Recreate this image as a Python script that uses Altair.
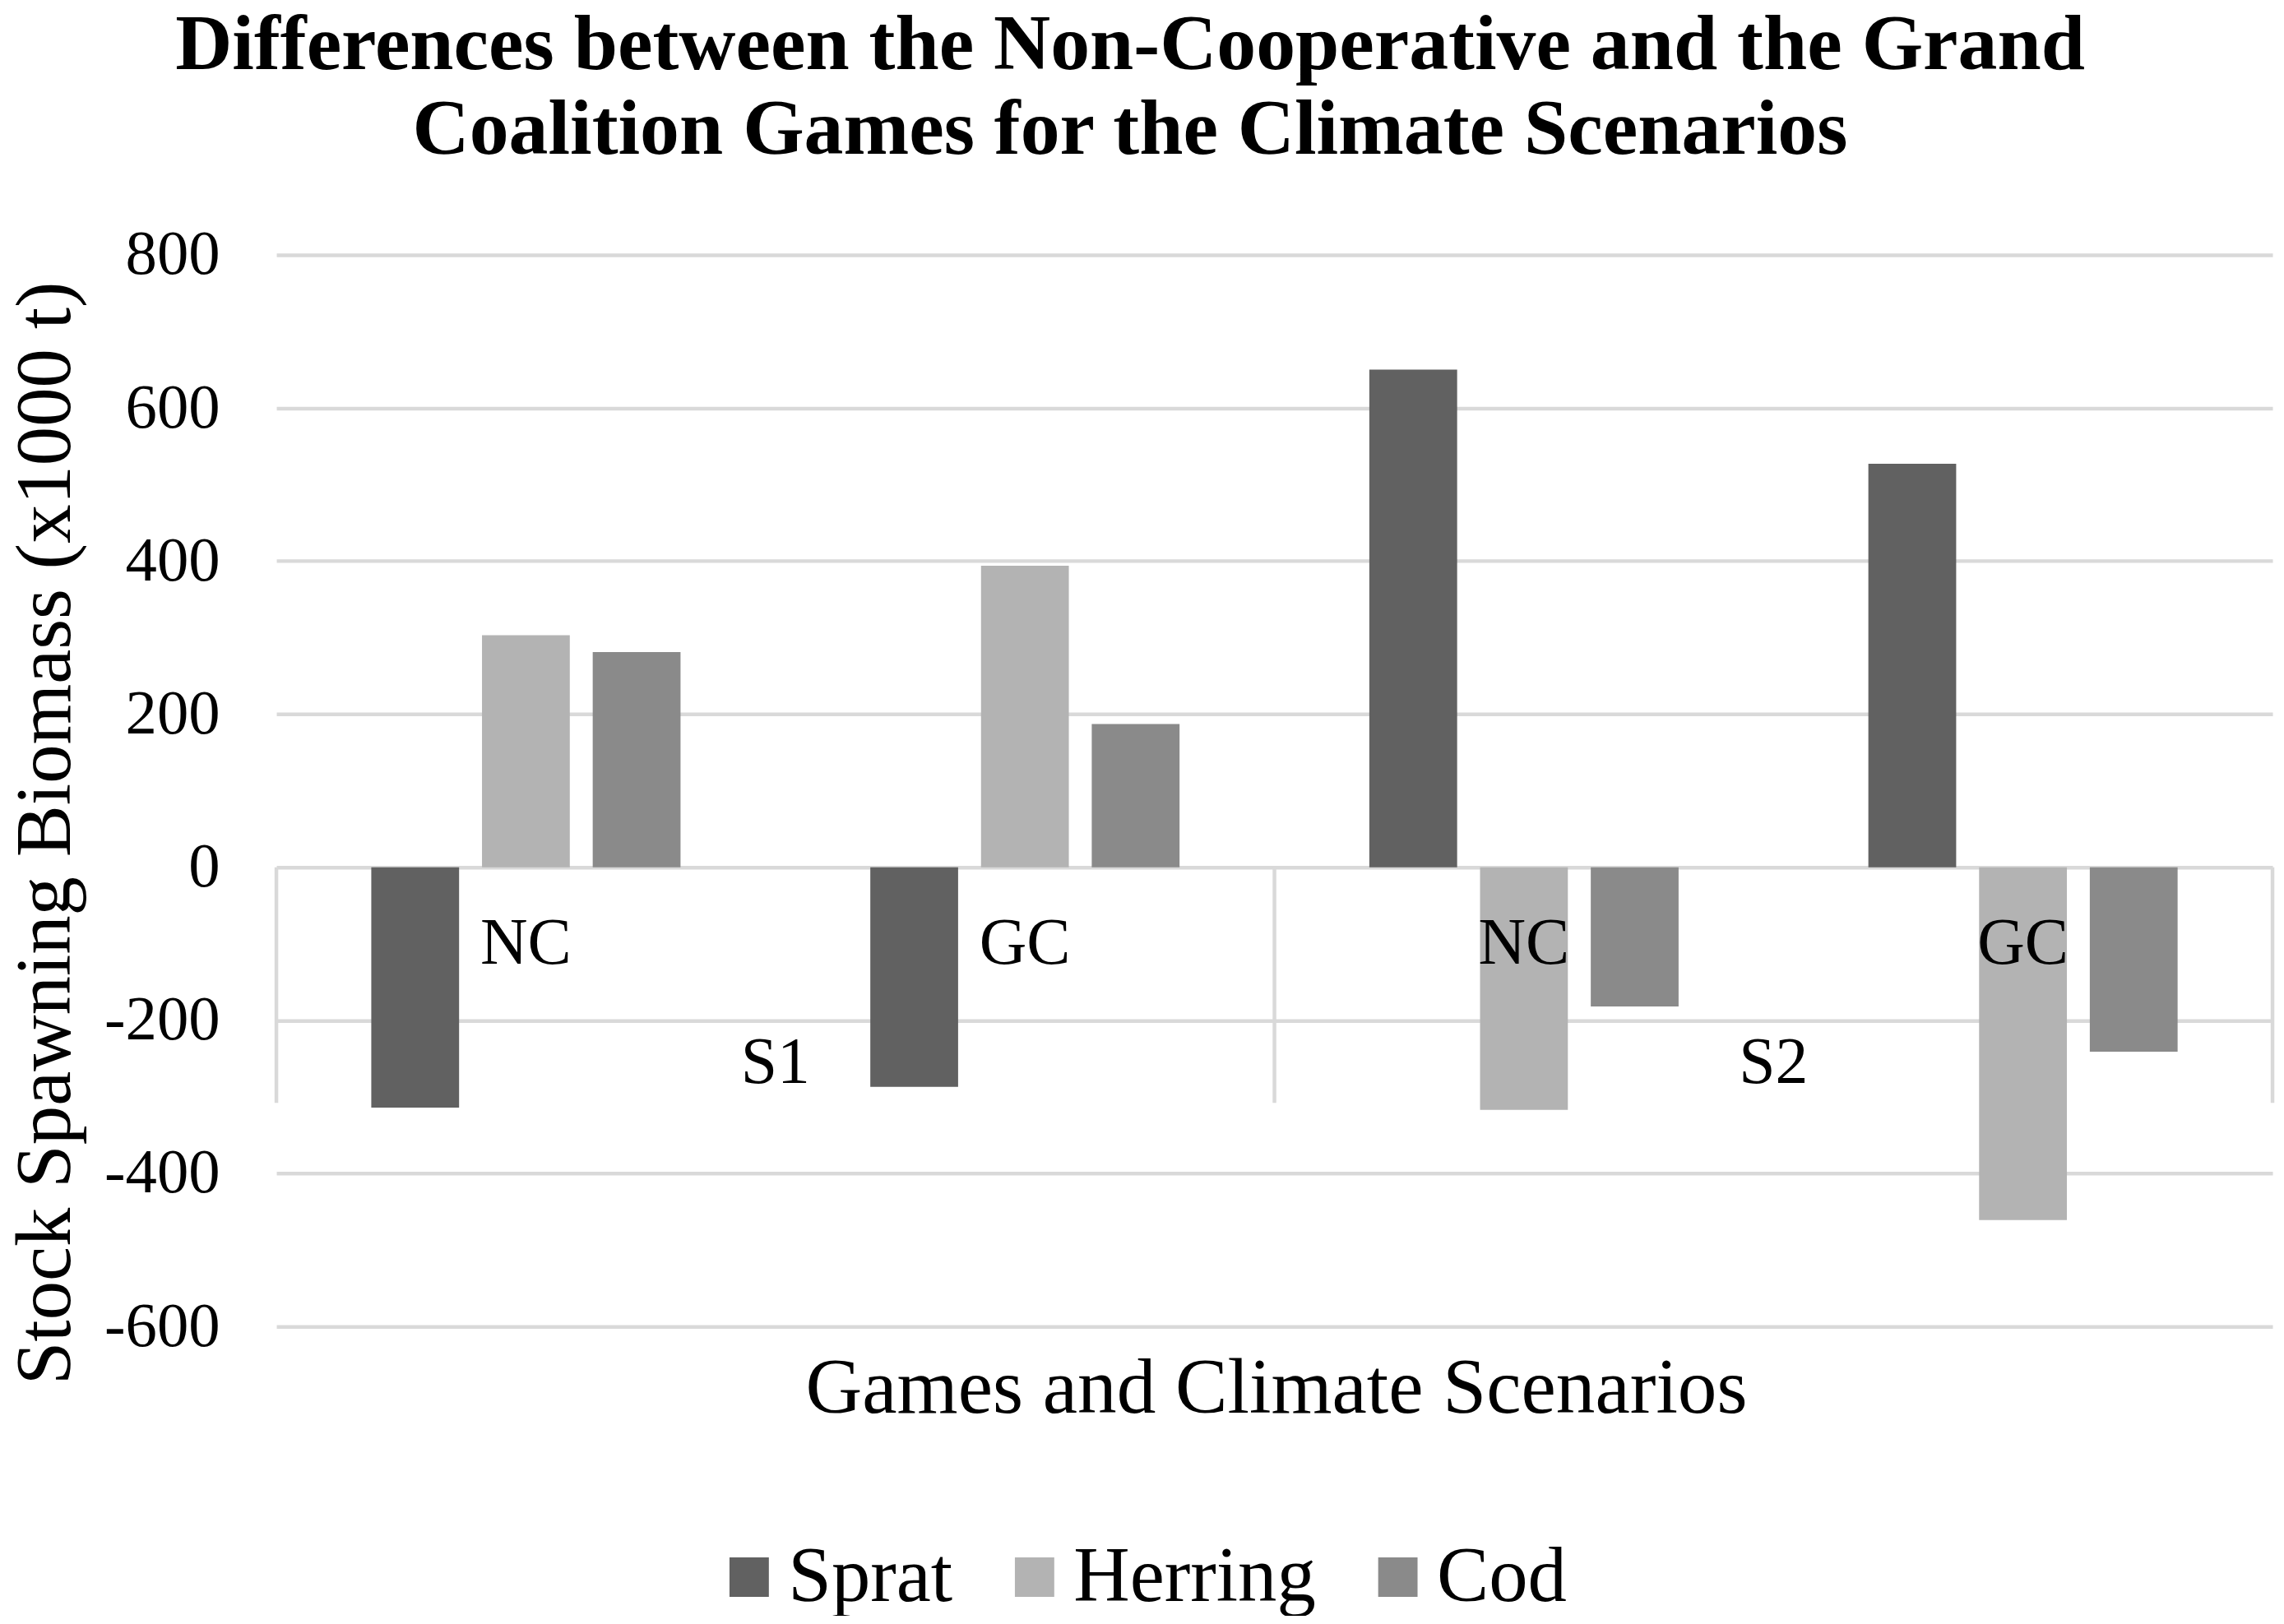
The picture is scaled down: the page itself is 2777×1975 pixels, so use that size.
import altair as alt
import pandas as pd

cats = ["S1-NC", "S1-GC", "S2-NC", "S2-GC"]
games = ["NC", "GC", "NC", "GC"]
scenarios = ["S1", "S1", "S2", "S2"]
species = ["Sprat", "Herring", "Cod"]
sprat = [-314, -287, 650, 527]
herring = [303, 394, -317, -461]
cod = [281, 187, -182, -241]
colors = ["#616161", "#b3b3b3", "#8a8a8a"]
y_ticks = [-600, -400, -200, 0, 200, 400, 600, 800]

FONT = "Liberation Serif"
GRID = "#d9d9d9"

rows = []
for sp, vals in zip(species, [sprat, herring, cod]):
    for c, v in zip(cats, vals):
        rows.append({"cat": c, "species": sp, "value": v})
df = pd.DataFrame(rows)

lab_df = pd.DataFrame({"cat": cats, "game": games, "scenario": scenarios})
# scenario label sits at the boundary between the two games of a scenario
scen_df = pd.DataFrame({"cat": ["S1-GC", "S2-GC"], "scenario": ["S1", "S2"]})
sep_left_df = pd.DataFrame({"cat": ["S1-NC", "S2-NC"]})
sep_right_df = pd.DataFrame({"cat": ["S2-GC"]})

xscale = alt.Scale(domain=cats, paddingInner=0, paddingOuter=0)

bars = alt.Chart(df).mark_bar().encode(
    x=alt.X(
        "cat:N",
        sort=cats,
        scale=xscale,
        axis=alt.Axis(
            labels=False, ticks=False, domain=False, grid=False,
            title="Games and Climate Scenarios",
            titleFont=FONT, titleFontSize=95.5, titleFontWeight="normal",
            titleColor="black", titleX=1219, titleY=105,
            titleBaseline="alphabetic", titleAlign="center",
        ),
    ),
    xOffset=alt.XOffset(
        "species:N", sort=species,
        scale=alt.Scale(domain=species, paddingInner=0.207, paddingOuter=0.857),
    ),
    y=alt.Y(
        "value:Q",
        scale=alt.Scale(domain=[-600, 800], nice=False, zero=False),
        axis=alt.Axis(
            values=y_ticks, domain=False, ticks=False, grid=True,
            gridColor=GRID, gridWidth=4.5,
            labelExpr="'' + datum.value",
            labelFont=FONT, labelFontSize=77, labelColor="black", labelPadding=69,
            title="Stock Spawning Biomass (x1000 t)",
            titleFont=FONT, titleFontSize=95, titleFontWeight="normal",
            titleColor="black", titleX=-252, titleY=705,
            titleBaseline="alphabetic", titleAlign="center", titleAngle=270,
        ),
    ),
    color=alt.Color(
        "species:N", sort=species,
        scale=alt.Scale(domain=species, range=colors),
        legend=alt.Legend(
            orient="none", direction="horizontal", legendX=529, legendY=1565,
            title=None, symbolType="square", symbolSize=2304, symbolStrokeWidth=0,
            labelFont=FONT, labelFontSize=95, labelColor="black", labelLimit=1000,
            labelOffset=0, columnPadding=52,
        ),
    ),
)

sep_left = alt.Chart(sep_left_df).mark_rule(color=GRID, strokeWidth=4.5).encode(
    x=alt.X("cat:N", sort=cats, scale=xscale, bandPosition=0),
    y=alt.datum(0),
    y2=alt.datum(-308),
)
sep_right = alt.Chart(sep_right_df).mark_rule(color=GRID, strokeWidth=4.5).encode(
    x=alt.X("cat:N", sort=cats, scale=xscale, bandPosition=1),
    y=alt.datum(0),
    y2=alt.datum(-308),
)

game_text = alt.Chart(lab_df).mark_text(
    font=FONT, fontSize=80, color="black", baseline="middle", align="center"
).encode(
    x=alt.X("cat:N", sort=cats, scale=xscale),
    y=alt.datum(-100),
    text="game:N",
)

scen_text = alt.Chart(scen_df).mark_text(
    font=FONT, fontSize=80, color="black", baseline="middle", align="center"
).encode(
    x=alt.X("cat:N", sort=cats, scale=xscale, bandPosition=0),
    y=alt.datum(-256),
    text="scenario:N",
)

chart = alt.layer(bars, sep_left, sep_right, game_text, scen_text).properties(
    width=2434,
    height=1307,
    background="white",
    autosize=alt.AutoSizeParams(type="none"),
    padding={"left": 329, "top": 300, "right": 6, "bottom": 350},
    title=alt.TitleParams(
        text=[
            "Differences between the Non-Cooperative and the Grand",
            "Coalition Games for the Climate Scenarios",
        ],
        font=FONT, fontSize=96, fontWeight="bold", color="black",
        anchor="middle", frame="group", dx=-176, offset=64, lineHeight=104,
    ),
).configure_view(strokeWidth=0, stroke="transparent")

chart.save("out.html", embed_options={"renderer": "svg", "actions": False})
